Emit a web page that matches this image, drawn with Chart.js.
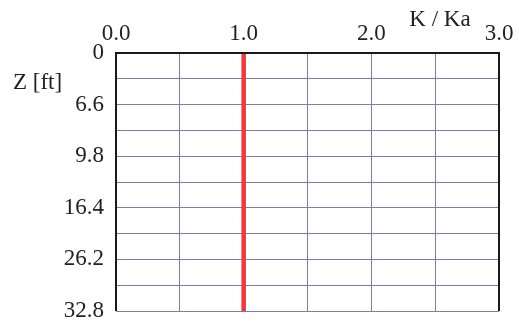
<!DOCTYPE html>
<html>
<head>
<meta charset="utf-8">
<script src="https://cdn.jsdelivr.net/npm/chart.js@4/dist/chart.umd.min.js"></script>
<style>
  html, body { margin: 0; padding: 0; background: #fff; }
  #wrap { width: 519px; height: 323px; }
</style>
</head>
<body>
<div id="wrap"><canvas id="chart" width="519" height="323"></canvas></div>
<script>
// Depth labels are evenly spaced on the axis (index positions)
const depthLabels = ['0', '6.6', '9.8', '16.4', '26.2', '32.8'];
// K / Ka ratio along the depth (red line)
const kRatio = [1.0, 1.0];
const kDepthIndex = [0, 5];

const xMin = 0, xMax = 3, xStep = 0.5;

const serif = "'Liberation Serif', 'DejaVu Serif', serif";

// Draws the frame and the free text labels
const framePlugin = {
    id: 'frame',
    afterDraw(chart) {
        const { ctx, chartArea: a } = chart;
        ctx.save();
        ctx.strokeStyle = '#1a1a1a';
        ctx.lineWidth = 2;
        ctx.beginPath();
        ctx.moveTo(a.left, a.bottom);
        ctx.lineTo(a.left, a.top);
        ctx.lineTo(a.right, a.top);
        ctx.lineTo(a.right, a.bottom);
        ctx.stroke();
        ctx.fillStyle = '#222';
        ctx.font = '23px ' + serif;
        ctx.textBaseline = 'middle';
        ctx.textAlign = 'center';
        ctx.fillText('K / Ka', 440, 20);
        ctx.textAlign = 'left';
        ctx.fillText('Z [ft]', 13, 83);
        ctx.restore();
    }
};

const ctx = document.getElementById('chart').getContext('2d');
new Chart(ctx, {
    type: 'line',
    data: {
        datasets: [{
            data: kRatio.map((k, i) => ({ x: k, y: kDepthIndex[i] })),
            borderColor: '#f23838',
            borderWidth: 4.5,
            pointRadius: 0,
            fill: false,
            clip: false
        }]
    },
    options: {
        responsive: false,
        animation: false,
        plugins: { legend: { display: false }, tooltip: { enabled: false } },
        layout: { autoPadding: false, padding: { left: 0, top: 0, right: 20, bottom: 12 } },
        scales: {
            x: {
                type: 'linear',
                position: 'top',
                min: xMin,
                max: xMax,
                grid: { color: '#7580a8', lineWidth: 1, drawTicks: false },
                border: { display: false },
                ticks: {
                    stepSize: xStep,
                    autoSkip: false,
                    maxRotation: 0,
                    padding: 5,
                    color: '#222',
                    font: { family: serif, size: 23 },
                    callback: v => Number.isInteger(v) ? v.toFixed(1) : ''
                },
                afterFit: s => { s.height = 53; s.paddingLeft = 0; s.paddingRight = 0; }
            },
            y: {
                type: 'linear',
                reverse: true,
                min: 0,
                max: depthLabels.length - 1,
                grid: { color: '#7a7ab5', lineWidth: 1, drawTicks: false },
                border: { display: false },
                ticks: {
                    stepSize: 0.5,
                    autoSkip: false,
                    padding: 12,
                    color: '#222',
                    font: { family: serif, size: 23 },
                    callback: v => Number.isInteger(v) ? depthLabels[v] : ''
                },
                afterFit: s => { s.width = 116; s.paddingTop = 0; s.paddingBottom = 0; }
            }
        }
    },
    plugins: [framePlugin]
});
</script>
</body>
</html>
